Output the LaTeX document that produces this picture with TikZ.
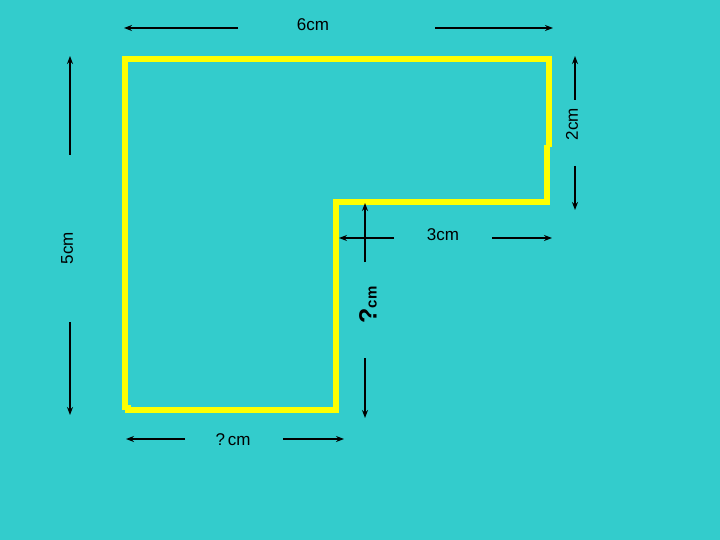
\documentclass[tikz,border=0pt]{standalone}
\usepackage{fontspec}
\setmainfont{Liberation Sans}
\usetikzlibrary{arrows.meta}
\definecolor{bg}{HTML}{33CCCC}
\definecolor{ylw}{HTML}{FFFF00}
\tikzset{
  wall/.style={draw=ylw, line width=6.5pt, line cap=butt},
  dim/.style={draw=black, line width=2pt, -{Stealth[length=8pt,width=6pt]}},
  lab/.style={font=\fontsize{17pt}{17pt}\selectfont, inner sep=0pt, text=black}
}
\begin{document}
\begin{tikzpicture}[x=1pt,y=-1pt]
\fill[bg] (0,0) rectangle (720,540);
\useasboundingbox (0,0) rectangle (720,540);
% yellow L-shape
\draw[wall] (122,59) -- (552,59);
\draw[wall] (549,56) -- (549,147);
\draw[wall] (547,145) -- (547,205);
\draw[wall] (333,202) -- (550,202);
\draw[wall] (336,199) -- (336,413);
\draw[wall] (126,410) -- (339,410);
\draw[wall] (125,56) -- (125,410);
\draw[wall] (128,405) -- (128,413);
% top 6cm
\node[lab] (l6) at (313,25) {6cm};
\coordinate (t1) at (238,28); \coordinate (t1e) at (124,28);
\coordinate (t2) at (435,28); \coordinate (t2e) at (553,28);
\draw[dim] (t1) -- (t1e);
\draw[dim] (t2) -- (t2e);
% right 2cm
\node[lab, rotate=90] (l2) at (572,124) {2cm};
\coordinate (r1) at (575,100); \coordinate (r1e) at (575,56);
\coordinate (r2) at (575,166); \coordinate (r2e) at (575,210);
\draw[dim] (r1) -- (r1e);
\draw[dim] (r2) -- (r2e);
% left 5cm
\node[lab, rotate=90] (l5) at (67,248) {5cm};
\coordinate (a1) at (70,155); \coordinate (a1e) at (70,56);
\coordinate (a2) at (70,322); \coordinate (a2e) at (70,415);
\draw[dim] (a1) -- (a1e);
\draw[dim] (a2) -- (a2e);
% bottom ?cm
\node[lab] (lb) at (233,440) {?\,cm};
\coordinate (b1) at (185,439); \coordinate (b1e) at (126,439);
\coordinate (b2) at (283,439); \coordinate (b2e) at (344,439);
\draw[dim] (b1) -- (b1e);
\draw[dim] (b2) -- (b2e);
% middle 3cm
\node[lab] (l3) at (443,235) {3cm};
\coordinate (m1) at (394,238); \coordinate (m1e) at (339,238);
\coordinate (m2) at (492,238); \coordinate (m2e) at (552,238);
\draw[dim] (m1) -- (m1e);
\draw[dim] (m2) -- (m2e);
% inner ?cm vertical
\node[lab, rotate=90] (lq) at (368,305) {{\fontsize{25pt}{25pt}\selectfont\bfseries ?}{\fontsize{15pt}{15pt}\selectfont\bfseries cm}};
\coordinate (v1) at (365,262); \coordinate (v1e) at (365,203);
\coordinate (v2) at (365,358); \coordinate (v2e) at (365,418);
\draw[dim] (v1) -- (v1e);
\draw[dim] (v2) -- (v2e);
\end{tikzpicture}
\end{document}
